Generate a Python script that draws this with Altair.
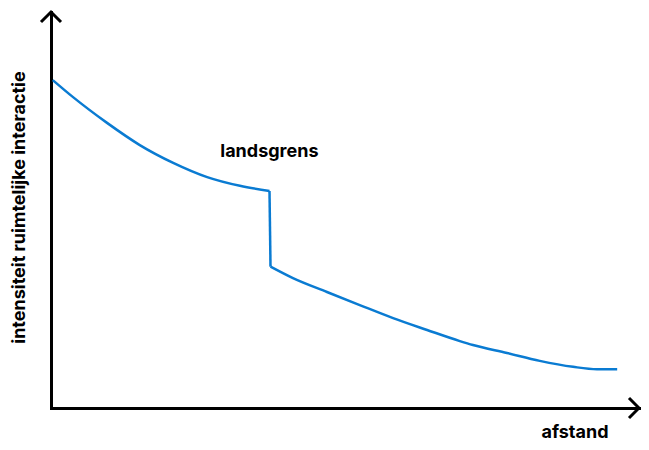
import altair as alt
import pandas as pd

# curve: afstand (x) vs intensiteit ruimtelijke interactie (y), arbitrary units 0-100
# before the border (landsgrens)
afstand_voor = [0.3, 3.75, 9.53, 15.1, 20.78, 26.56, 32.13, 37.16]
intensiteit_voor = [82.8, 78.5, 72.0, 66.4, 61.9, 58.3, 56.1, 54.8]
# after the border
afstand_na = [37.33, 41.15, 46.93, 52.51, 58.18, 63.96, 69.53, 71.76, 77.54, 83.12,
              88.79, 92.85, 96.29]
intensiteit_na = [35.7, 32.8, 29.3, 26.0, 22.7, 19.7, 16.9, 15.9, 13.9, 11.9,
                  10.4, 9.8, 9.8]

label_text = ["landsgrens"]
label_x = [28.79]
label_y = [63.5]

arrow_x = [0, 100]
arrow_y = [100, 0]
arrow_shape = ["M-1,1L0,0L1,1", "M-1,-1L0,0L-1,1"]

FONT = "Inter"
FS = 18
BLUE = "#0a7bd2"

rows = []
for x, y in zip(afstand_voor, intensiteit_voor):
    rows.append({"x": x, "y": y, "seg": "voor"})
# the drop at the border joins the last point before and the first point after
rows.append({"x": afstand_voor[-1], "y": intensiteit_voor[-1], "seg": "grens"})
rows.append({"x": afstand_na[0], "y": intensiteit_na[0], "seg": "grens"})
for x, y in zip(afstand_na, intensiteit_na):
    rows.append({"x": x, "y": y, "seg": "na"})
curve = pd.DataFrame(rows)

labels = pd.DataFrame({"x": label_x, "y": label_y, "t": label_text})
arrows = pd.DataFrame({"x": arrow_x, "y": arrow_y, "s": arrow_shape})

xs = alt.Scale(domain=[0, 100], nice=False, zero=False)
ys = alt.Scale(domain=[0, 100], nice=False, zero=False)

x_axis = alt.Axis(
    title="afstand", domain=True, domainColor="black", domainWidth=3, domainCap="square",
    ticks=False, labels=False, grid=False,
    titleFont=FONT, titleFontSize=FS, titleFontWeight="bold", titleColor="black",
    titleAnchor="end", titleAlign="right", titleBaseline="alphabetic",
    titleX=557, titleY=29.5,
)
y_axis = alt.Axis(
    title="intensiteit ruimtelijke interactie", domain=True, domainColor="black",
    domainWidth=3, domainCap="square",
    ticks=False, labels=False, grid=False,
    titleFont=FONT, titleFontSize=FS, titleFontWeight="bold", titleColor="black",
    titleAngle=270, titleAlign="center", titleBaseline="alphabetic",
    titleX=-27, titleY=195,
)

line = alt.Chart(curve).mark_line(color=BLUE, strokeWidth=2.5, interpolate="monotone").encode(
    x=alt.X("x:Q", scale=xs, axis=x_axis),
    y=alt.Y("y:Q", scale=ys, axis=y_axis),
    detail="seg:N",
    order=alt.Order("x:Q"),
)

text = alt.Chart(labels).mark_text(
    font=FONT, fontSize=FS, fontWeight="bold", color="black",
    align="left", baseline="alphabetic",
).encode(x=alt.X("x:Q", scale=xs), y=alt.Y("y:Q", scale=ys), text="t:N")

arrow_marks = alt.Chart(arrows).mark_point(
    filled=False, stroke="black", strokeWidth=3, size=400, opacity=1,
).encode(
    x=alt.X("x:Q", scale=xs),
    y=alt.Y("y:Q", scale=ys),
    shape=alt.Shape("s:N", scale=None),
)

chart = alt.layer(line, text, arrow_marks).properties(
    width=588, height=396,
    autosize=alt.AutoSizeParams(type="none"),
    padding={"left": 43, "top": 4, "right": 2, "bottom": 34},
).configure_view(stroke=None)

chart.save("out.html", embed_options={"renderer": "svg", "actions": False})
